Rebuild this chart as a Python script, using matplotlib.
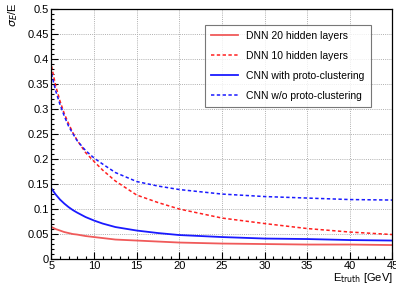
import matplotlib
matplotlib.use('Agg')
import matplotlib.pyplot as plt
from matplotlib.ticker import MultipleLocator

plt.rcParams['font.family'] = ['Liberation Sans', 'DejaVu Sans']

# energies (GeV)
e_truth = [5, 5.5, 6, 6.5, 7, 7.5, 8, 9, 10, 11, 12.5, 15, 17.5, 20, 25, 30, 35, 40, 45]

# resolution sigma_E/E per model
dnn20 = [0.063, 0.059, 0.056, 0.053, 0.051, 0.049, 0.048, 0.045, 0.043, 0.041, 0.038,
         0.036, 0.034, 0.032, 0.030, 0.029, 0.028, 0.028, 0.027]
dnn10 = [0.385, 0.345, 0.315, 0.29, 0.27, 0.252, 0.237, 0.212, 0.194, 0.177, 0.155,
         0.127, 0.112, 0.099, 0.081, 0.070, 0.060, 0.053, 0.048]
cnn_proto = [0.140, 0.128, 0.118, 0.110, 0.103, 0.097, 0.092, 0.083, 0.076, 0.070, 0.063,
             0.056, 0.051, 0.047, 0.043, 0.040, 0.039, 0.037, 0.036]
cnn_noproto = [0.370, 0.335, 0.308, 0.285, 0.265, 0.250, 0.236, 0.216, 0.201, 0.189, 0.172,
               0.154, 0.145, 0.138, 0.129, 0.124, 0.121, 0.118, 0.117]

fig = plt.figure(figsize=(3.96, 2.86), dpi=100)
ax = fig.add_axes([0.13, 0.096, 0.861, 0.874])

dash = (0, (2.2, 1.6))
ax.plot(e_truth, dnn20, color='#f05a5a', lw=1.3, label='DNN 20 hidden layers')
ax.plot(e_truth, dnn10, color='#ff2020', lw=1.1, ls=dash, label='DNN 10 hidden layers')
ax.plot(e_truth, cnn_proto, color='#1a1aff', lw=1.3, label='CNN with proto-clustering')
ax.plot(e_truth, cnn_noproto, color='#1a1aff', lw=1.1, ls=dash, label='CNN w/o proto-clustering')

ax.set_xlim(5, 45)
ax.set_ylim(0, 0.5)
ax.xaxis.set_major_locator(MultipleLocator(5))
ax.xaxis.set_minor_locator(MultipleLocator(1))
ax.yaxis.set_minor_locator(MultipleLocator(0.01))
ax.set_yticks([0, 0.05, 0.1, 0.15, 0.2, 0.25, 0.3, 0.35, 0.4, 0.45, 0.5])
ax.set_yticklabels(['0', '0.05', '0.1', '0.15', '0.2', '0.25', '0.3', '0.35', '0.4', '0.45', '0.5'])
ax.tick_params(which='both', direction='in', labelsize=8, pad=2, width=0.8)
ax.tick_params(which='major', length=5)
ax.tick_params(which='minor', length=2.5)
ax.grid(which='major', color='#b0b0b0', ls=(0, (1, 1.2)), lw=0.7)

for s in ax.spines.values():
    s.set_linewidth(0.9)

fig.text(0.015, 0.99, r'$\sigma_{E}$/E', rotation=90, ha='left', va='top', fontsize=8)
fig.text(0.991, 0.004, r'E$_{\rm truth}$ [GeV]', ha='right', va='bottom', fontsize=8)

leg = ax.legend(loc='upper left', bbox_to_anchor=(0.449, 0.935), fontsize=7.5,
                frameon=True, fancybox=False, edgecolor='#555555', handlelength=2.6,
                borderpad=0.6, labelspacing=0.95, handletextpad=0.8, borderaxespad=0)
leg.get_frame().set_linewidth(0.8)

fig.savefig('out.png', dpi=100)
